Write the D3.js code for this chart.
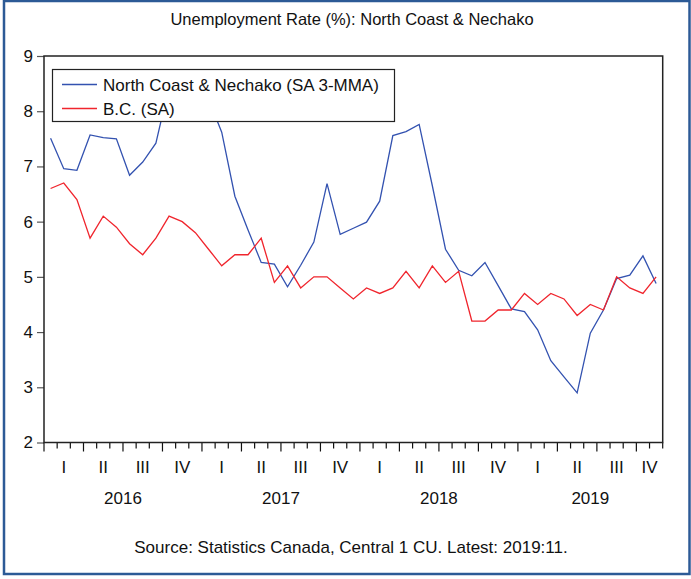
<!DOCTYPE html>
<html>
<head>
<meta charset="utf-8">
<script src="https://cdn.jsdelivr.net/npm/d3@7/dist/d3.min.js"></script>
<style>
  html, body { margin: 0; padding: 0; background: #fff; }
  svg { display: block; font-family: "Liberation Sans", Arial, sans-serif; }
</style>
</head>
<body>
<svg id="chart" width="691" height="579"></svg>
<script>
// Monthly observations, Jan 2016 – Nov 2019
const monthCount = 47;
const years = [2016, 2017, 2018, 2019];
const quarterLabels = ["I", "II", "III", "IV"];
const yTicks = [2, 3, 4, 5, 6, 7, 8, 9];

const northCoast = [
  7.51, 6.96, 6.93, 7.57, 7.52, 7.50, 6.84, 7.08, 7.42, 8.45, 8.62, 8.50,
  8.22, 7.62, 6.46, 5.85, 5.26, 5.23, 4.82, 5.21, 5.63, 6.69, 5.77, 5.88,
  5.99, 6.37, 7.56, 7.63, 7.76, 6.65, 5.50, 5.12, 5.02, 5.26, 4.84, 4.42,
  4.37, 4.04, 3.48, 3.19, 2.90, 3.98, 4.40, 4.97, 5.03, 5.38, 4.88
];
const bc = [
  6.6, 6.7, 6.4, 5.7, 6.1, 5.9, 5.6, 5.4, 5.7, 6.1, 6.0, 5.8,
  5.5, 5.2, 5.4, 5.4, 5.7, 4.9, 5.2, 4.8, 5.0, 5.0, 4.8, 4.6,
  4.8, 4.7, 4.8, 5.1, 4.8, 5.2, 4.9, 5.1, 4.2, 4.2, 4.4, 4.4,
  4.7, 4.5, 4.7, 4.6, 4.3, 4.5, 4.4, 5.0, 4.8, 4.7, 5.0
];
const seriesNames = ["North Coast & Nechako (SA 3-MMA)", "B.C. (SA)"];
const seriesColors = ["#3352b0", "#f0252d"];

const titleText = "Unemployment Rate (%): North Coast & Nechako";
const sourceText = "Source: Statistics Canada, Central 1 CU. Latest: 2019:11.";

const svg = d3.select("#chart");
const plot = { left: 44, right: 662.7, top: 56, bottom: 442.5 };
const fontSize = 17;

// Outer frame
svg.append("rect")
  .attr("x", 4).attr("y", 1).attr("width", 685.5).attr("height", 573)
  .attr("fill", "#fff").attr("stroke", "#2c5a96").attr("stroke-width", 2.5);

// Scales: month boundaries on x, rate on y
const x = d3.scaleLinear().domain([0, monthCount]).range([plot.left, plot.right]);
const y = d3.scaleLinear().domain([2, 9]).range([plot.bottom, plot.top]);

// Title
svg.append("text")
  .attr("x", 352).attr("y", 25)
  .attr("text-anchor", "middle")
  .attr("font-size", 16.5)
  .attr("fill", "#111")
  .text(titleText);

// Y axis
const yAxis = d3.axisLeft(y).tickValues(yTicks).tickSize(7).tickPadding(4).tickFormat(d3.format("d"));
const gy = svg.append("g").attr("transform", `translate(${plot.left},0)`).call(yAxis);
gy.select(".domain").remove();
gy.selectAll(".tick line").attr("stroke", "#555").attr("stroke-width", 1.2);
gy.selectAll(".tick text").attr("font-size", fontSize).attr("fill", "#111")
  .attr("font-family", "Liberation Sans, Arial, sans-serif");

// X axis: a tick at every month boundary, longer at quarter boundaries
const gx = svg.append("g").attr("transform", `translate(0,${plot.bottom})`);
gx.selectAll("line.tick")
  .data(d3.range(0, monthCount + 1))
  .join("line")
  .attr("x1", d => x(d)).attr("x2", d => x(d))
  .attr("y1", 0).attr("y2", d => d % 3 === 0 ? 9 : 6)
  .attr("stroke", "#111").attr("stroke-width", 1.2);

// Quarter labels
const quarters = [];
years.forEach((yr, yi) => {
  for (let q = 0; q < 4; q++) {
    const s = yi * 12 + q * 3;
    if (s >= monthCount) continue;
    const e = Math.min(s + 3, monthCount);
    quarters.push({ label: quarterLabels[q], mid: (s + e) / 2 });
  }
});
gx.selectAll("text.q")
  .data(quarters)
  .join("text")
  .attr("class", "q")
  .attr("x", d => x(d.mid)).attr("y", 30)
  .attr("text-anchor", "middle")
  .attr("font-size", fontSize).attr("fill", "#111")
  .text(d => d.label);

// Year labels
gx.selectAll("text.yr")
  .data(years)
  .join("text")
  .attr("class", "yr")
  .attr("x", (d, i) => x((i * 12 + Math.min(i * 12 + 12, monthCount)) / 2))
  .attr("y", 61.5)
  .attr("text-anchor", "middle")
  .attr("font-size", fontSize).attr("fill", "#111")
  .text(d => d);

// Plot frame
svg.append("rect")
  .attr("x", plot.left).attr("y", plot.top)
  .attr("width", plot.right - plot.left).attr("height", plot.bottom - plot.top)
  .attr("fill", "none").attr("stroke", "#222").attr("stroke-width", 1.5);

// Series lines
const line = d3.line().x((d, i) => x(i + 0.5)).y(d => y(d));
[northCoast, bc].forEach((vals, k) => {
  svg.append("path")
    .datum(vals)
    .attr("fill", "none")
    .attr("stroke", seriesColors[k])
    .attr("stroke-width", 1.3)
    .attr("stroke-linejoin", "miter")
    .attr("d", line);
});

// Legend
const lg = svg.append("g");
lg.append("rect")
  .attr("x", 52.5).attr("y", 69.5).attr("width", 342).attr("height", 52)
  .attr("fill", "#fff").attr("stroke", "#222").attr("stroke-width", 1.2);
seriesNames.forEach((name, k) => {
  const ly = 84.5 + k * 24;
  lg.append("line")
    .attr("x1", 62).attr("x2", 97).attr("y1", ly).attr("y2", ly)
    .attr("stroke", seriesColors[k]).attr("stroke-width", 1.3);
  lg.append("text")
    .attr("x", 103).attr("y", ly + 6)
    .attr("font-size", fontSize).attr("fill", "#111")
    .text(name);
});

// Source note
svg.append("text")
  .attr("x", 351).attr("y", 553)
  .attr("text-anchor", "middle")
  .attr("font-size", fontSize)
  .attr("fill", "#111")
  .text(sourceText);
</script>
</body>
</html>
